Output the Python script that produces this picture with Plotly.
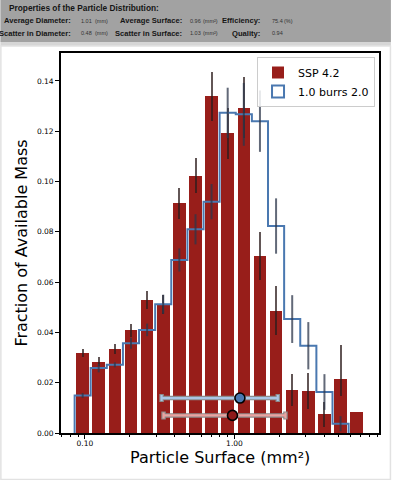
import numpy as np
import plotly.graph_objects as go

# ---------------- data ----------------
surface_centers = [0.0966, 0.1237, 0.1586, 0.2033, 0.2606, 0.334, 0.428, 0.549, 0.703,
                   0.901, 1.155, 1.481, 1.898, 2.433, 3.118, 3.998, 5.123, 6.567]
ssp_values = [0.0318, 0.0284, 0.0335, 0.0408, 0.0528, 0.0510, 0.0913, 0.1023, 0.1339,
              0.1191, 0.1294, 0.0704, 0.0487, 0.0172, 0.0167, 0.0075, 0.0214, 0.0082]
ssp_err_plus = [0.0015, 0.0018, 0.0020, 0.0025, 0.0036, 0.0038, 0.0062, 0.0070, 0.0097,
                0.0102, 0.0122, 0.0095, 0.0096, 0.0064, 0.0073, 0.0050, 0.0136, 0.0]
ssp_err_minus = [0.0015, 0.0018, 0.0020, 0.0025, 0.0036, 0.0038, 0.0062, 0.0070, 0.0097,
                 0.0102, 0.0122, 0.0095, 0.0096, 0.0064, 0.0073, 0.0050, 0.0065, 0.0]
burrs_values = [0.0149, 0.0258, 0.0271, 0.0357, 0.0410, 0.0512, 0.0688, 0.0810, 0.0920,
                0.1273, 0.1267, 0.1240, 0.0823, 0.0453, 0.0347, 0.0163, 0.0037]
burrs_err = [0.0010, 0.0017, 0.0010, 0.0022, 0.0025, 0.0038, 0.0046, 0.0060, 0.0070,
             0.0100, 0.0125, 0.0122, 0.0110, 0.0095, 0.0094, 0.0071, 0.0030]

# summary (mean and spread) markers
burrs_mean, burrs_low, burrs_high, burrs_level = 1.088, 0.3256, 1.948, 0.0139
ssp_mean, ssp_low, ssp_high, ssp_level = 0.97, 0.3357, 2.193, 0.0070

series_names = ["SSP 4.2", "1.0 burrs 2.0"]
x_tick_vals = [0.1, 1.0]
x_tick_text = ["0.10", "1.00"]
x_minor_vals = [0.07, 0.08, 0.09, 0.2, 0.3, 0.4, 0.5, 0.6, 0.7, 0.8, 0.9,
                2, 3, 4, 5, 6, 7, 8, 9]
x_range = [0.0692, 9.26]
y_tick_vals = [0.00, 0.02, 0.04, 0.06, 0.08, 0.10, 0.12, 0.14]
x_title = "Particle Surface (mm²)"
y_title = "Fraction of Available Mass"

header_title = "Properties of the Particle Distribution:"
header_rows = [
    [("Average Diameter:", "1.01", "(mm)"), ("Average Surface:", "0.96", "(mm²)"),
     ("Efficiency:", "75.4", "(%)")],
    [("Scatter in Diameter:", "0.48", "(mm)"), ("Scatter in Surface:", "1.03", "(mm²)"),
     ("Quality:", "0.94", "")],
]

# ---------------- styles ----------------
RED = "#981e1a"
BLUE = "#4a78b0"
W, H = 393, 480
ML, MR, MT, MB = 61, 12, 53, 47
PW, PH = W - ML - MR, H - MT - MB


def px_x(X):
    return (X - ML) / PW


def px_y(Y):
    return (H - MB - Y) / PH


lg = np.log10  # the x axis is drawn in decades (log scale)
bar_width = 0.084  # in decades

centers_log = lg(surface_centers)
# bin edges (geometric midpoints, in decades)
mids = (centers_log[:-1] + centers_log[1:]) / 2
edges = np.concatenate([[2 * centers_log[0] - mids[0]], mids])
nb = len(burrs_values)
step_x = [edges[0]] + list(edges[:nb]) + [edges[nb]]
step_y = [0] + list(burrs_values) + [0]

fig = go.Figure()

fig.add_trace(go.Bar(
    x=centers_log, y=ssp_values, width=[bar_width] * len(ssp_values),
    marker=dict(color=RED, line=dict(width=0)), name=series_names[0],
    error_y=dict(type="data", array=ssp_err_plus, arrayminus=ssp_err_minus,
                 color="rgba(45,30,30,0.75)", thickness=2, width=0),
))

fig.add_trace(go.Scatter(
    x=step_x, y=step_y, mode="lines", line=dict(color=BLUE, width=2, shape="hv"),
    showlegend=False, hoverinfo="skip",
))
fig.add_trace(go.Scatter(
    x=centers_log[:nb], y=burrs_values, mode="markers", marker=dict(size=1, opacity=0),
    error_y=dict(type="data", array=burrs_err, color="rgba(45,55,75,0.75)", thickness=2, width=0),
    showlegend=False, hoverinfo="skip",
))
# legend entry for the step histogram (outlined box)
fig.add_trace(go.Bar(
    x=[None], y=[None], name=series_names[1],
    marker=dict(color="rgba(255,255,255,0)", line=dict(color=BLUE, width=2)),
))

for mean, lo, hi, lvl, light, dark in [
    (burrs_mean, burrs_low, burrs_high, burrs_level, "#a9c6e6", BLUE),
    (ssp_mean, ssp_low, ssp_high, ssp_level, "#eba3a0", "#8e1a1a"),
]:
    m, a, b = lg(mean), lg(hi) - lg(mean), lg(mean) - lg(lo)
    fig.add_trace(go.Scatter(
        x=[m], y=[lvl], mode="markers", marker=dict(size=1, opacity=0),
        error_x=dict(type="data", array=[a], arrayminus=[b],
                     color="#8c8c8c", thickness=4.5, width=4),
        showlegend=False, hoverinfo="skip",
    ))
    fig.add_trace(go.Scatter(
        x=[m], y=[lvl], mode="markers",
        marker=dict(size=10, color=dark, line=dict(color="black", width=1.6)),
        error_x=dict(type="data", array=[a], arrayminus=[b],
                     color=light, thickness=2.2, width=3),
        showlegend=False, hoverinfo="skip",
    ))

# ---------------- header ----------------
shapes = [
    dict(type="rect", xref="paper", yref="paper", x0=px_x(0), x1=px_x(W), y0=px_y(42), y1=px_y(0),
         fillcolor="#a2a2a2", line=dict(width=0), layer="below"),
    dict(type="rect", xref="paper", yref="paper", x0=px_x(0), x1=px_x(W), y0=px_y(46), y1=px_y(42),
         fillcolor="#d6d6d6", line=dict(width=0), layer="below"),
    dict(type="rect", xref="paper", yref="paper", x0=px_x(0.5), x1=px_x(W - 0.5), y0=px_y(H - 0.5),
         y1=px_y(46), fillcolor="rgba(0,0,0,0)", line=dict(color="#e2e2e2", width=1.5), layer="below"),
]

HFONT = "Liberation Sans, Arial, sans-serif"
MFONT = "DejaVu Sans, sans-serif"
annotations = [dict(text="<b>" + header_title + "</b>", xref="paper", yref="paper",
                    x=px_x(7), y=px_y(7.5), xanchor="left", yanchor="middle", showarrow=False,
                    font=dict(family=HFONT, size=8.3, color="#151515"))]
label_right = [72.7, 184.3, 263.3]
value_left = [79.5, 189, 271.7]
unit_left = [92.7, 202, 283]
row_y = [20.7, 33.3]
for r, row in enumerate(header_rows):
    for c, (lab, val, unit) in enumerate(row):
        annotations.append(dict(text="<b>" + lab + "</b>", xref="paper", yref="paper",
                                x=px_x(label_right[c]), y=px_y(row_y[r]), xanchor="right",
                                yanchor="middle", showarrow=False,
                                font=dict(family=HFONT, size=7.6, color="#151515")))
        annotations.append(dict(text=val, xref="paper", yref="paper",
                                x=px_x(value_left[c]), y=px_y(row_y[r]), xanchor="left",
                                yanchor="middle", showarrow=False,
                                font=dict(family=HFONT, size=5.5, color="#333333")))
        if unit:
            annotations.append(dict(text=unit, xref="paper", yref="paper",
                                    x=px_x(unit_left[c]), y=px_y(row_y[r]), xanchor="left",
                                    yanchor="middle", showarrow=False,
                                    font=dict(family=HFONT, size=5.5, color="#333333")))
# x-axis title
annotations.append(dict(text=x_title, xref="paper", yref="paper", x=0.5, y=px_y(457),
                        xanchor="center", yanchor="middle", showarrow=False,
                        font=dict(family=MFONT, size=16, color="black")))

fig.update_layout(
    width=W, height=H, margin=dict(l=ML, r=MR, t=MT, b=MB, pad=0),
    paper_bgcolor="white", plot_bgcolor="white",
    barmode="overlay", bargap=0,
    shapes=shapes, annotations=annotations,
    font=dict(family=MFONT, color="black"),
    legend=dict(x=px_x(377), y=px_y(57), xanchor="right", yanchor="top",
                bgcolor="rgba(255,255,255,0.85)", bordercolor="#cccccc", borderwidth=1,
                font=dict(family=MFONT, size=11), tracegroupgap=0, itemwidth=30),
    xaxis=dict(
        type="linear", range=[lg(x_range[0]), lg(x_range[1])],
        tickmode="array", tickvals=lg(x_tick_vals), ticktext=x_tick_text,
        ticks="outside", ticklen=4, tickwidth=1.2, tickcolor="black",
        minor=dict(tickmode="array", tickvals=lg(x_minor_vals), ticks="outside", ticklen=2.5,
                   tickwidth=0.9, tickcolor="black", showgrid=False),
        showline=True, linecolor="black", linewidth=1.8, mirror=True, showgrid=False, zeroline=False,
        tickfont=dict(family=MFONT, size=7.5), ticklabelstandoff=-2,
    ),
    yaxis=dict(
        range=[0, 0.1511], tickmode="array", tickvals=y_tick_vals, tickformat=".2f",
        ticks="outside", ticklen=4, tickwidth=1.2, tickcolor="black",
        showline=True, linecolor="black", linewidth=1.8, mirror=True, showgrid=False, zeroline=False,
        tickfont=dict(family=MFONT, size=7.5),
        title=dict(text=y_title, font=dict(family=MFONT, size=16), standoff=5),
    ),
)

fig.write_html("out.html", post_script="document.body.style.margin='0';",
               config={"displayModeBar": False})
